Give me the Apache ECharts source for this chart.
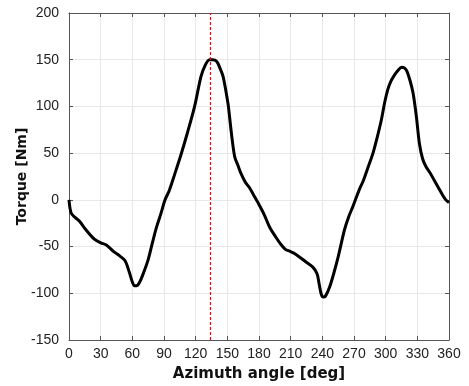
<!DOCTYPE html>
<html>
<head>
<meta charset="utf-8">
<script src="https://cdn.jsdelivr.net/npm/echarts@6/dist/echarts.min.js"></script>
<style>
  html, body { margin: 0; padding: 0; background: #fff; }
  #chart { width: 469px; height: 386px; }
</style>
</head>
<body>
<div id="chart"></div>
<script>
// azimuth angle [deg] and torque [Nm]
const angles = [0, 2, 6, 10, 16, 24, 30, 35, 43, 48, 53, 57, 60, 62, 64, 67, 71, 75, 79, 83, 87, 91, 95, 100, 106, 112, 119, 125, 129, 133, 136, 140, 143, 146, 149, 151, 154, 157, 160, 163, 167, 171, 175, 179, 185, 190, 196, 201, 205, 209, 213, 217, 224, 231, 235, 237, 239, 241, 243, 247, 251, 255, 261, 265, 269, 275, 279, 284, 288, 292, 296, 299, 302, 305, 308, 312, 315, 318, 320, 323, 326, 329, 332, 335, 338, 342, 346, 350, 354, 357, 360];
const torque = [0, -14, -19, -23, -32, -42, -46, -48, -56, -60, -65, -77, -88, -92, -92, -88, -77, -64, -46, -29, -15, 0, 10, 27, 48, 71, 100, 132, 144, 150, 150, 148, 141, 132, 114, 100, 70, 46, 37, 28, 19, 13, 5, -3, -16, -29, -40, -48, -53, -55, -57, -60, -66, -72, -79, -90, -101, -104, -103, -93, -78, -61, -32, -18, -7, 11, 21, 37, 50, 67, 86, 104, 118, 127, 133, 139, 142, 141, 138, 128, 114, 90, 60, 44, 36, 29, 21, 13, 5, 0, -3];
const xTicks = [0, 30, 60, 90, 120, 150, 180, 210, 240, 270, 300, 330, 360];
const yTicks = [-150, -100, -50, 0, 50, 100, 150, 200];
const markAngle = 134;

const chart = echarts.init(document.getElementById('chart'));
const font = 'Liberation Sans, Arial, sans-serif';
const nameFont = 'DejaVu Sans, sans-serif';
const frame = { show: true, onZero: false, lineStyle: { color: '#555', width: 1 } };
const inTicks = { show: true, inside: true, length: 4, lineStyle: { color: '#555' } };
const grid = { show: true, lineStyle: { color: '#e8e8e8', width: 1 } };

chart.setOption({
  animation: false,
  grid: { left: 69, right: 20, top: 13, bottom: 46, containLabel: false, outerBoundsMode: 'none' },
  xAxis: [
    {
      type: 'value', min: xTicks[0], max: xTicks[xTicks.length - 1], interval: 30,
      name: 'Azimuth angle [deg]', nameLocation: 'middle', nameGap: 27, nameMoveOverlap: false,
      nameTextStyle: { fontFamily: nameFont, fontSize: 15, fontWeight: 'bold', color: '#111' },
      axisLine: frame, axisTick: inTicks, splitLine: grid,
      axisLabel: { fontFamily: font, fontSize: 14, color: '#222', margin: 7 }
    },
    {
      type: 'value', position: 'top', min: 0, max: 360, interval: 30,
      axisLine: frame, axisTick: inTicks, splitLine: { show: false },
      axisLabel: { show: false }
    }
  ],
  yAxis: [
    {
      type: 'value', min: yTicks[0], max: yTicks[yTicks.length - 1], interval: 50,
      name: 'Torque [Nm]', nameLocation: 'middle', nameGap: 40, nameMoveOverlap: false,
      nameTextStyle: { fontFamily: nameFont, fontSize: 14, fontWeight: 'bold', color: '#111' },
      axisLine: frame, axisTick: inTicks, splitLine: grid,
      axisLabel: { fontFamily: font, fontSize: 14, color: '#222', margin: 10 }
    },
    {
      type: 'value', position: 'right', min: -150, max: 200, interval: 50,
      axisLine: frame, axisTick: inTicks, splitLine: { show: false },
      axisLabel: { show: false }
    }
  ],
  series: [
    {
      type: 'line',
      data: angles.map((a, i) => [a, torque[i]]),
      smooth: 0.3,
      symbol: 'none',
      lineStyle: { color: '#000', width: 3 },
      markLine: {
        silent: true,
        symbol: 'none',
        label: { show: false },
        lineStyle: { color: '#ff0000', type: [3, 2], width: 1.2 },
        data: [{ xAxis: markAngle }]
      }
    }
  ]
});
</script>
</body>
</html>
